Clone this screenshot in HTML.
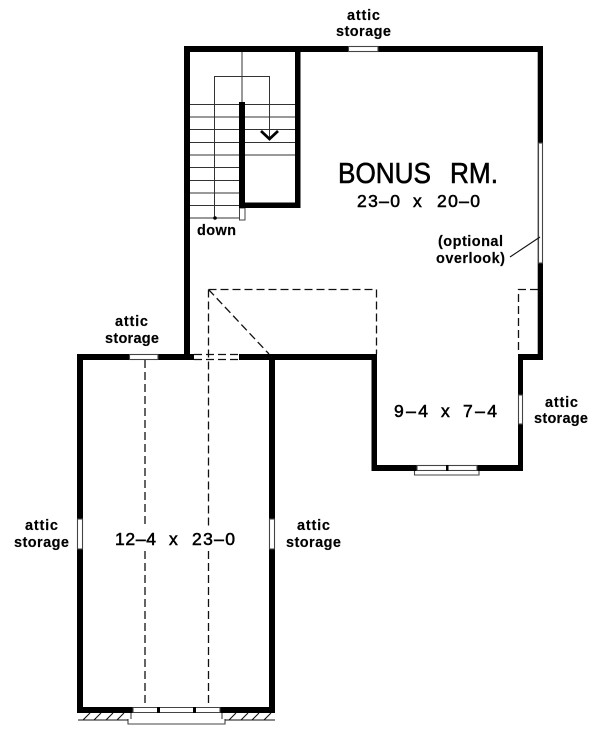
<!DOCTYPE html>
<html>
<head>
<meta charset="utf-8">
<style>
html,body{margin:0;padding:0;background:#fff;width:600px;height:742px;overflow:hidden}
svg{display:block;filter:blur(.35px)}
text{font-family:"Liberation Sans",sans-serif;fill:#000;font-weight:bold}
.l{font-size:14.500px;stroke:#000;stroke-width:.15px}
.b{font-size:29px;font-weight:normal;stroke:#000;stroke-width:.6px}
.e{font-size:17.500px;font-weight:normal;stroke:#000;stroke-width:.55px}
</style>
</head>
<body>
<svg width="600" height="742" viewBox="0 0 600 742" xmlns="http://www.w3.org/2000/svg">
<rect width="600" height="742" fill="#fff"/>

<!-- stair treads -->
<g stroke="#333" stroke-width="1" fill="none">
<path d="M190 104.500H295M190 117H295M190 129.500H295M190 142.500H295M190 155H295"/>
<path d="M190 167.500H239M190 180.500H239M190 193H239M190 205.500H239M190 218H239"/>
<path d="M242 52V102"/>
<path d="M214.500 218V76.500H269.500V139"/>
</g>
<path d="M261 131L269.500 139L278 131" fill="none" stroke="#000" stroke-width="2.800"/>
<circle cx="215" cy="218" r="1.800" fill="#000"/>
<rect x="239.500" y="208" width="5.500" height="12" fill="#fff" stroke="#444" stroke-width="1"/>

<!-- dashed lines -->
<g stroke="#111" stroke-width="1.300" fill="none" stroke-dasharray="8 4">
<path d="M208.500 289.500H376.500V354"/>
<path d="M208.500 289.500L269 354"/>
<path d="M208.500 289.500V528"/>
<path d="M208.500 551V705"/>
<path d="M145 360V528"/>
<path d="M145 551V705"/>
<path d="M194 354.500H239"/>
<path d="M194 359.500H239"/>
<path d="M538 289.500H518.500V354"/>
</g>

<!-- walls -->
<g fill="#000">
<rect x="184" y="46" width="359" height="6"/>
<rect x="184" y="46" width="6" height="314"/>
<rect x="295" y="46" width="5.500" height="162"/>
<rect x="239" y="102" width="6" height="106"/>
<rect x="239" y="202.500" width="61.500" height="5.500"/>
<rect x="537.700" y="46" width="5.300" height="314"/>
<rect x="518" y="354" width="25" height="6"/>
<rect x="518" y="354" width="5" height="117"/>
<rect x="371.500" y="354" width="5.500" height="117"/>
<rect x="371.500" y="465" width="151.500" height="6"/>
<rect x="77" y="354" width="117" height="6"/>
<rect x="239" y="354" width="138" height="6"/>
<rect x="77" y="354" width="6" height="359"/>
<rect x="269" y="354" width="6" height="359"/>
<rect x="77" y="707" width="56" height="6"/>
<rect x="220" y="707" width="55" height="6"/>
</g>

<!-- windows -->
<g fill="#fff" stroke="#444" stroke-width="1.100">
<rect x="348.500" y="46.500" width="29.500" height="5"/>
<rect x="129.500" y="354.500" width="28.500" height="5"/>
<rect x="538.500" y="143" width="4" height="120"/>
<rect x="518.500" y="395" width="4" height="29"/>
<rect x="77.500" y="519" width="5" height="30"/>
<rect x="269.500" y="519" width="5" height="30"/>
<rect x="417" y="465.500" width="60" height="5"/>
<path d="M414.500 471V475H479V471"/>
<path d="M133 707.500H220V712.500H133Z"/>
<path d="M128 719V724H225V719"/>
<path d="M131 713V719M222 713V719"/>
</g>
<rect x="446" y="465" width="2.500" height="6" fill="#000"/>
<rect x="157" y="707" width="3" height="6" fill="#000"/>
<rect x="193" y="707" width="3" height="6" fill="#000"/>

<!-- grade hatch -->
<g stroke="#111" stroke-width="1.100" fill="none">
<path d="M78 720H128M225 720H275"/>
<path d="M83 720L90 713M94 720L101 713M106 720L113 713M117 720L124 713M229 720L236 713M241 720L248 713M252 720L259 713M264 720L271 713"/>
</g>

<!-- leader -->
<path d="M510 257L540 237" stroke="#111" stroke-width="1.100" fill="none"/>

<!-- labels -->
<text class="l" x="347" y="20" textLength="33">attic</text>
<text class="l" x="336" y="36" textLength="55">storage</text>
<text class="l" x="115" y="326" textLength="33">attic</text>
<text class="l" x="105" y="343" textLength="54">storage</text>
<text class="l" x="25" y="530" textLength="33">attic</text>
<text class="l" x="14" y="547" textLength="55">storage</text>
<text class="l" x="297" y="530" textLength="33">attic</text>
<text class="l" x="286" y="547" textLength="55">storage</text>
<text class="l" x="545" y="407" textLength="33">attic</text>
<text class="l" x="534" y="423" textLength="54">storage</text>
<text class="l" x="197" y="235" textLength="39">down</text>
<text class="l" x="438" y="246" textLength="65">(optional</text>
<text class="l" x="436" y="263" textLength="69">overlook)</text>

<text class="b" x="338" y="183" textLength="93" lengthAdjust="spacingAndGlyphs">BONUS</text>
<text class="b" x="450" y="183" textLength="48" lengthAdjust="spacingAndGlyphs">RM.</text>

<text class="e" x="357" y="207" textLength="43">23–0</text>
<text class="e" x="413" y="207" textLength="10">x</text>
<text class="e" x="437" y="207" textLength="43">20–0</text>

<text class="e" x="394" y="417" textLength="34">9–4</text>
<text class="e" x="441" y="417" textLength="10">x</text>
<text class="e" x="463" y="417" textLength="34">7–4</text>

<text class="e" x="115" y="545" textLength="41">12–4</text>
<text class="e" x="169" y="545" textLength="10">x</text>
<text class="e" x="192" y="545" textLength="43">23–0</text>
</svg>
</body>
</html>
